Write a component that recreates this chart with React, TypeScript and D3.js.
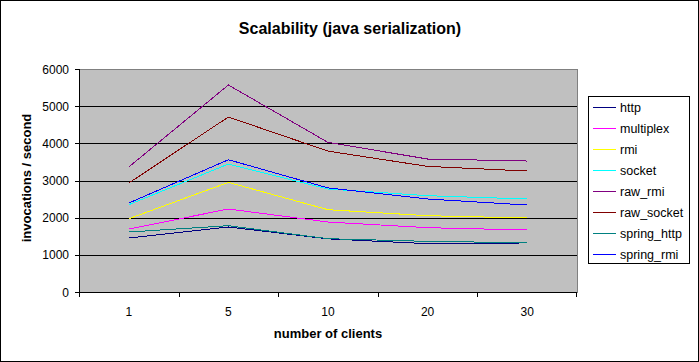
import React from 'react';
import * as d3 from 'd3';

const categories = ['1', '5', '10', '20', '30'];
const seriesNames = ['http', 'multiplex', 'rmi', 'socket', 'raw_rmi', 'raw_socket', 'spring_http', 'spring_rmi'];
const seriesColors = ['#000080', '#FF00FF', '#FFFF00', '#00FFFF', '#800080', '#800000', '#008080', '#0000FF'];

const http = [1453, 1749, 1430, 1300, 1320];
const multiplex = [1695, 2233, 1883, 1730, 1668];
const rmi = [1972, 2949, 2214, 2053, 1991];
const socket = [2349, 3443, 2771, 2591, 2502];
const rawRmi = [3363, 5569, 4025, 3578, 3524];
const rawSocket = [2932, 4708, 3790, 3380, 3255];
const springHttp = [1614, 1784, 1434, 1362, 1326];
const springRmi = [2394, 3559, 2800, 2502, 2340];

const yTicks = [0, 1000, 2000, 3000, 4000, 5000, 6000];

const seriesValues = [http, multiplex, rmi, socket, rawRmi, rawSocket, springHttp, springRmi];

const W = 699;
const H = 362;
const plot = { left: 79, right: 577, top: 69, bottom: 292 };
const font = '"Liberation Sans", Arial, sans-serif';

const App: React.FC = () => {
  const x = d3.scaleBand<string>().domain(categories).range([plot.left, plot.right]);
  const y = d3.scaleLinear().domain([0, 6000]).range([plot.bottom, plot.top]);
  const line = d3.line<number>()
    .x((_d, i) => (x(categories[i]) || 0) + x.bandwidth() / 2)
    .y(d => y(d));

  const legendTop = 96;
  const legendStep = 21;

  return (
    <svg width={W} height={H} style={{ position: 'absolute', left: 0, top: 0 }} fontFamily={font}>
      <rect x={0.5} y={0.5} width={W - 1} height={H - 1} fill="#fff" stroke="#000" />
      <text x={350} y={34} textAnchor="middle" fontSize={16} fontWeight="bold">Scalability (java serialization)</text>

      {/* plot area */}
      <rect x={plot.left} y={plot.top} width={plot.right - plot.left} height={plot.bottom - plot.top}
        fill="#C0C0C0" stroke="#808080" shapeRendering="crispEdges" />
      {yTicks.filter(t => t > 0 && t < 6000).map(t => (
        <line key={t} x1={plot.left} x2={plot.right} y1={Math.round(y(t)) + 0.5} y2={Math.round(y(t)) + 0.5}
          stroke="#000" shapeRendering="crispEdges" />
      ))}

      {/* axes */}
      <line x1={plot.left + 0.5} x2={plot.left + 0.5} y1={plot.top} y2={plot.bottom} stroke="#000" shapeRendering="crispEdges" />
      <line x1={plot.left} x2={plot.right} y1={plot.bottom + 0.5} y2={plot.bottom + 0.5} stroke="#000" shapeRendering="crispEdges" />
      {yTicks.map(t => (
        <g key={t}>
          <line x1={plot.left - 4} x2={plot.left} y1={Math.round(y(t)) + 0.5} y2={Math.round(y(t)) + 0.5} stroke="#000" shapeRendering="crispEdges" />
          <text x={plot.left - 10} y={y(t) + 4.5} textAnchor="end" fontSize={12}>{t}</text>
        </g>
      ))}
      {categories.map(c => (
        <line key={'t' + c} x1={Math.round(x(c) || 0) + 0.5} x2={Math.round(x(c) || 0) + 0.5}
          y1={plot.bottom} y2={plot.bottom + 5} stroke="#000" shapeRendering="crispEdges" />
      ))}
      <line x1={plot.right - 0.5} x2={plot.right - 0.5} y1={plot.bottom} y2={plot.bottom + 5} stroke="#000" shapeRendering="crispEdges" />
      {categories.map(c => (
        <text key={'l' + c} x={(x(c) || 0) + x.bandwidth() / 2} y={315.5} textAnchor="middle" fontSize={12}>{c}</text>
      ))}
      <text x={328} y={338} textAnchor="middle" fontSize={13} fontWeight="bold">number of clients</text>
      <text transform={`translate(31,178) rotate(-90)`} textAnchor="middle" fontSize={13} fontWeight="bold">invocations / second</text>

      {/* series */}
      {seriesValues.map((vals, i) => (
        <path key={seriesNames[i]} d={line(vals) || ''} fill="none" stroke={seriesColors[i]} strokeWidth={1} shapeRendering="crispEdges" />
      ))}

      {/* legend */}
      <rect x={588.5} y={legendTop + 0.5} width={101} height={167} fill="#fff" stroke="#000" shapeRendering="crispEdges" />
      {seriesNames.map((n, i) => {
        const ly = legendTop + 11 + i * legendStep;
        return (
          <g key={'lg' + n}>
            <line x1={593} x2={616} y1={ly + 0.5} y2={ly + 0.5} stroke={seriesColors[i]} shapeRendering="crispEdges" />
            <text x={620} y={ly + 4.5} fontSize={12.5}>{n}</text>
          </g>
        );
      })}
    </svg>
  );
};

export default App;
